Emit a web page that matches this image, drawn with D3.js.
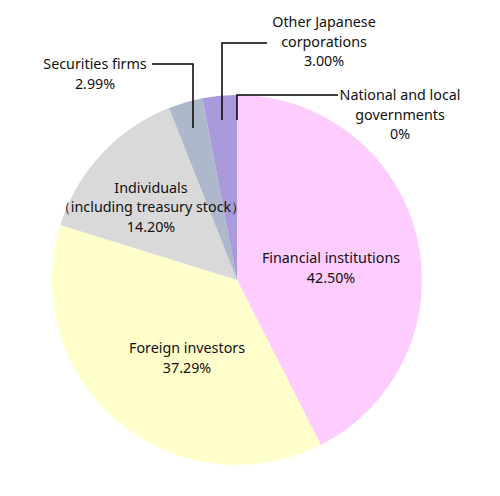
<!DOCTYPE html>
<html><head><meta charset="utf-8">
<script src="https://cdn.jsdelivr.net/npm/d3@7"></script>
<style>body{margin:0;background:#fff}text{font-family:"Noto Sans",sans-serif;font-size:14.3px;fill:#111}</style>
</head><body><svg id="c" width="500" height="496"></svg>
<script>
const labels = ["National and local governments", "Financial institutions", "Foreign investors",
  "Individuals (including treasury stock)", "Securities firms", "Other Japanese corporations"];
const values = [0, 42.5, 37.29, 14.2, 2.99, 3.0];
const colors = ["#8fa0d0", "#ffccff", "#ffffcc", "#d9d9d9", "#adb9ca", "#a99bdb"];

const svg = d3.select("#c");
const cx = 237, cy = 280, radius = 185;
const g = svg.append("g").attr("transform", `translate(${cx},${cy})`);
const data = labels.map((l, i) => ({ label: l, value: values[i], color: colors[i] }));
const arcs = d3.pie().sort(null).value((d) => d.value)(data);
const arc = d3.arc().innerRadius(0).outerRadius(radius);

g.selectAll("path").data(arcs).enter().append("path")
  .attr("d", arc).attr("fill", (d) => d.data.color);

// inside labels
const inner = [
  { i: 1, x: 94, y: -12, lines: ["Financial institutions", "42.50%"] },
  { i: 2, x: -50, y: 78, lines: ["Foreign investors", "37.29%"] },
  { i: 3, x: -86, y: -73, lines: ["Individuals", "（including treasury stock）", "14.20%"] },
];
inner.forEach((o) => {
  const t = g.append("text").attr("text-anchor", "middle");
  o.lines.forEach((s, k) => t.append("tspan").attr("x", o.x)
    .attr("y", o.y + (k - (o.lines.length - 1) / 2) * 19.5 + 5).text(s));
});

// outside labels with leader lines
const outside = [
  { pts: [[193, 128], [193, 64], [152, 64]], tx: 95, ty: 64, lines: ["Securities firms", "2.99%"] },
  { pts: [[222, 120], [222, 43], [267, 43]], tx: 324, ty: 22, lines: ["Other Japanese", "corporations", "3.00%"] },
  { pts: [[237, 120], [237, 95], [338, 95]], tx: 400, ty: 95, lines: ["National and local", "governments", "0%"] },
];
outside.forEach((o) => {
  svg.append("polyline").attr("points", o.pts.map((p) => p.join(",")).join(" "))
    .attr("fill", "none").attr("stroke", "#000").attr("stroke-width", 1.5);
  const t = svg.append("text").attr("text-anchor", "middle");
  o.lines.forEach((s, k) => t.append("tspan").attr("x", o.tx).attr("y", o.ty + k * 19.5 + 5).text(s));
});
</script></body></html>
